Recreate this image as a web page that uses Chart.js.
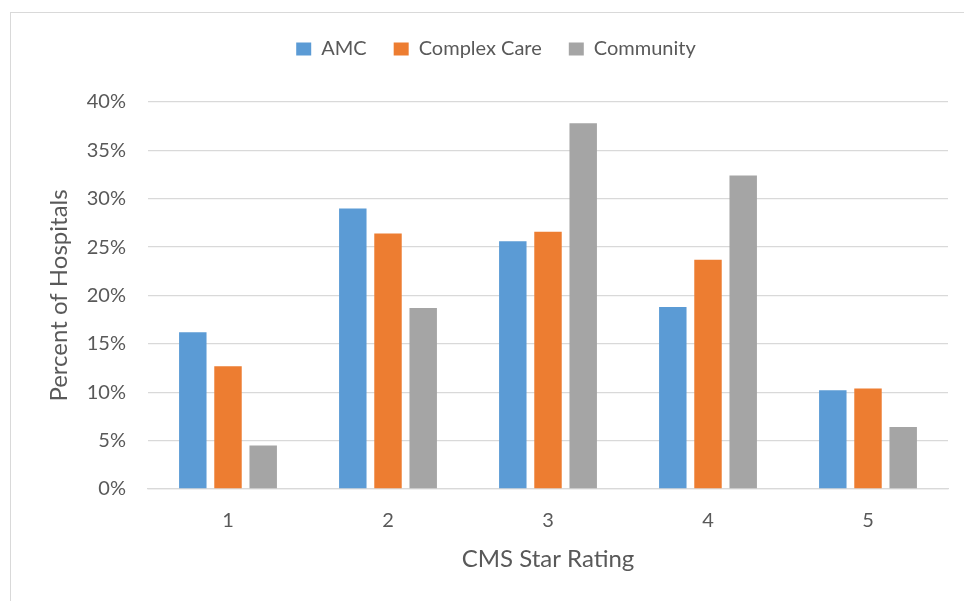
<!DOCTYPE html>
<html>
<head>
<meta charset="utf-8">
<script src="https://cdn.jsdelivr.net/npm/chart.js@4/dist/chart.umd.min.js"></script>
<style>
  html, body { margin: 0; padding: 0; background: #fff; overflow: hidden; }
  #frame { position: absolute; left: 10px; top: 12px; width: 2000px; height: 2000px; border: 1.5px solid #d9d9d9; }
  #wrap { position: absolute; left: 0; top: 0; width: 964px; height: 601px; }
</style>
</head>
<body>
<div id="frame"></div>
<div id="wrap"><canvas id="chart"></canvas></div>
<script>
const ratings = ['1', '2', '3', '4', '5'];
const amc = [16.2, 29.0, 25.6, 18.8, 10.2];
const complexCare = [12.7, 26.4, 26.6, 23.7, 10.4];
const community = [4.5, 18.7, 37.8, 32.4, 6.4];

const textColor = '#595959';
const gridColor = '#d9d9d9';
Chart.defaults.font.family = 'Lato, "Open Sans", sans-serif';
Chart.defaults.color = textColor;

// push the plot area down below the legend
const legendSpacer = {
  id: 'legendSpacer',
  afterInit(chart) {
    const legend = chart.legend;
    const fit = legend.fit;
    legend.fit = function () {
      fit.call(this);
      this.height += 33;
    };
  }
};

new Chart(document.getElementById('chart'), {
  type: 'bar',
  data: {
    labels: ratings,
    datasets: [
      { label: 'AMC', data: amc, backgroundColor: '#5b9bd5' },
      { label: 'Complex Care', data: complexCare, backgroundColor: '#ed7d31' },
      { label: 'Community', data: community, backgroundColor: '#a5a5a5' }
    ]
  },
  options: {
    responsive: true,
    maintainAspectRatio: false,
    animation: false,
    categoryPercentage: 0.66,
    barPercentage: 0.78,
    layout: { padding: { top: 12, right: 16, bottom: 0, left: 44 } },
    plugins: {
      legend: {
        position: 'top',
        labels: {
          boxWidth: 15,
          boxHeight: 13,
          padding: 27,
          color: textColor,
          font: { size: 20 }
        }
      },
      tooltip: { enabled: false }
    },
    scales: {
      x: {
        grid: { display: false, drawTicks: false },
        border: { display: true, color: gridColor, width: 1.3 },
        ticks: { padding: 20, color: textColor, font: { size: 20 } },
        title: {
          display: true,
          text: 'CMS Star Rating',
          color: textColor,
          font: { size: 24 },
          padding: { top: 0, bottom: 27 }
        },
        afterFit(scale) { scale.height = 112; }
      },
      y: {
        min: 0,
        max: 40,
        grid: { color: gridColor, lineWidth: 1.3, drawTicks: false },
        border: { display: false },
        ticks: {
          stepSize: 5,
          padding: 22,
          color: textColor,
          font: { size: 20 },
          callback: v => v + '%'
        },
        title: {
          display: true,
          text: 'Percent of Hospitals',
          color: textColor,
          font: { size: 24 },
          padding: { top: 1, bottom: 0 }
        },
        afterFit(scale) { scale.width = 104; }
      }
    }
  },
  plugins: [legendSpacer]
});
</script>
</body>
</html>
